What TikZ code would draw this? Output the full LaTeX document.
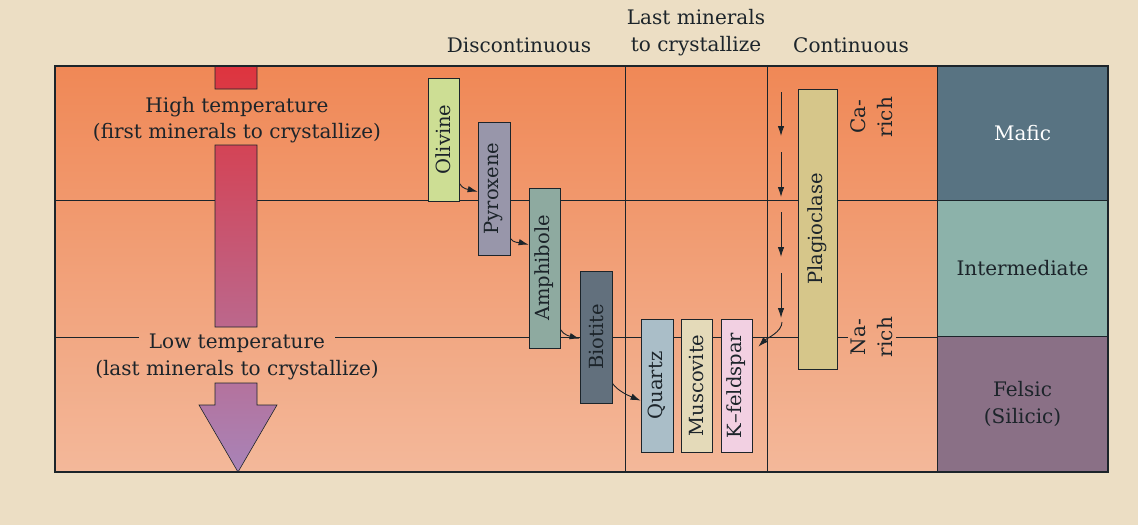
\documentclass[tikz,border=0pt]{standalone}
\usepackage{fontspec}
\setmainfont{DejaVu Serif}
\usetikzlibrary{arrows.meta}

\definecolor{ink}{RGB}{28,36,42}
\definecolor{pagebg}{RGB}{236,222,196}
\definecolor{magmatop}{RGB}{240,136,86}
\definecolor{magmabot}{RGB}{243,184,154}
\definecolor{hot}{RGB}{222,52,62}
\definecolor{cool}{RGB}{168,132,184}
\definecolor{olivinec}{RGB}{205,222,148}
\definecolor{pyroxenec}{RGB}{152,150,170}
\definecolor{amphibolec}{RGB}{142,170,160}
\definecolor{biotitec}{RGB}{98,112,125}
\definecolor{quartzc}{RGB}{170,190,200}
\definecolor{muscovitec}{RGB}{228,218,185}
\definecolor{kfeldc}{RGB}{242,208,226}
\definecolor{plagc}{RGB}{214,198,138}
\definecolor{maficc}{RGB}{88,115,130}
\definecolor{interc}{RGB}{140,178,170}
\definecolor{felsicc}{RGB}{138,112,134}

\begin{document}
\begin{tikzpicture}[x=1pt,y=-1pt,
  every node/.style={font=\fontsize{20}{26}\selectfont, text=ink},
  mineral/.style={draw=ink, line width=0.8pt, rotate=90, inner sep=0pt,
    minimum height=31pt, font=\fontsize{19.5}{24}\selectfont},
  rockbox/.style={draw=ink, line width=1pt, inner sep=0pt, minimum width=171pt,
    align=center, font=\fontsize{20}{27}\selectfont},
  series/.style={-{Latex[length=10pt,width=6.5pt]}, line width=0.9pt, draw=ink},
  gridline/.style={draw=ink, line width=0.9pt}]
\fill[pagebg] (0,0) rectangle (1138,525);
\useasboundingbox (0,0) rectangle (1138,525);
\shade[top color=magmatop, bottom color=magmabot] (55,66) rectangle (937,472);

% column titles
\node (disc) [anchor=base] at (519,52) {Discontinuous};
\node (last) [align=center, font=\fontsize{20}{27}\selectfont] at (696,33) {Last minerals\\to crystallize};
\node (cont) [anchor=base] at (851,52) {Continuous};

% temperature labels
\node (hight) [align=center] at (237,120) {High temperature\\(first minerals to crystallize)};
\node (lowa) [anchor=base, inner xsep=10pt] at (237,348) {Low temperature};
\node (lowb) [anchor=base] at (237,375) {(last minerals to crystallize)};
\node (carich) [rotate=90, align=center, font=\fontsize{20}{27}\selectfont] at (872,117) {Ca-\\rich};
\node (narich) [rotate=90, align=center, font=\fontsize{20}{27}\selectfont] at (872,337) {Na-\\rich};

% rows and columns
\draw[gridline] (55,200) -- (937,200);
\draw[gridline] (55,337) -- (lowa.west |- 0,337);
\draw[gridline] (lowa.east |- 0,337) -- (narich.north);
\draw[gridline] (narich.south) -- (937,337);
\draw[gridline] (625,66) -- (625,472);
\draw[gridline] (767,66) -- (767,472);

% falling temperature
\shadedraw[top color=hot, bottom color=cool, draw=ink, line width=0.6pt]
  (215,66) rectangle (257,89)
  (215,145) rectangle (257,327)
  (215,383) -- (257,383) -- (257,405) -- (277,405) -- (238,472) -- (199,405) -- (215,405) -- cycle;

% discontinuous series
\node (olivine) [mineral, fill=olivinec, minimum width=123pt] at (443.5,139.5) {Olivine};
\node (pyroxene) [mineral, fill=pyroxenec, minimum width=133pt, minimum height=32pt] at (494,188.5) {Pyroxene};
\node (amphibole) [mineral, fill=amphibolec, minimum width=160pt] at (544.5,268) {Amphibole};
\node (biotite) [mineral, fill=biotitec, minimum width=132pt, minimum height=32pt] at (596,337) {Biotite};
\node (quartz) [mineral, fill=quartzc, minimum width=133pt, minimum height=32pt] at (657,385.5) {Quartz};
\node (muscovite) [mineral, fill=muscovitec, minimum width=133pt] at (696.5,385.5) {Muscovite};
\node (kfeld) [mineral, fill=kfeldc, minimum width=133pt] at (736.5,385.5) {K--feldspar};

% continuous series
\node (plag) [mineral, fill=plagc, minimum width=280pt, minimum height=39pt] at (817.5,229) {Plagioclase};

\draw[series] ([yshift=18pt]olivine.south west) .. controls +(3,6) and +(-8,-2) .. ([yshift=-70pt]pyroxene.north east);
\draw[series] ([yshift=17pt]pyroxene.south west) .. controls +(3,5) and +(-8,-2) .. ([yshift=-57pt]amphibole.north east);
\draw[series] ([yshift=19pt]amphibole.south west) .. controls +(3,6) and +(-8,-2) .. ([yshift=-68pt]biotite.north east);
\draw[series] ([yshift=20pt]biotite.south west) .. controls +(6,8) and +(-12,-5) .. ([yshift=-82pt]quartz.north east);
\foreach \ya/\yb in {92/136,152/197,212/257,273/318}
  \draw[series] (781,\ya) -- (781,\yb);
\coordinate (contend) at (782,322);
\draw[series] (contend) .. controls +(0,10) and +(8,-8) .. ([xshift=6pt, yshift=-28pt]kfeld.south east);

% rock types
\node (mafic) [rockbox, fill=maficc, minimum height=134pt, text=white] at (1022.5,133) {Mafic};
\node (inter) [rockbox, fill=interc, minimum height=136pt] at (1022.5,268) {Intermediate};
\node (felsic) [rockbox, fill=felsicc, minimum height=136pt] at (1022.5,404) {Felsic\\(Silicic)};

\draw[ink, line width=1.4pt] (55,66) rectangle (1108,472);
\end{tikzpicture}
\end{document}
